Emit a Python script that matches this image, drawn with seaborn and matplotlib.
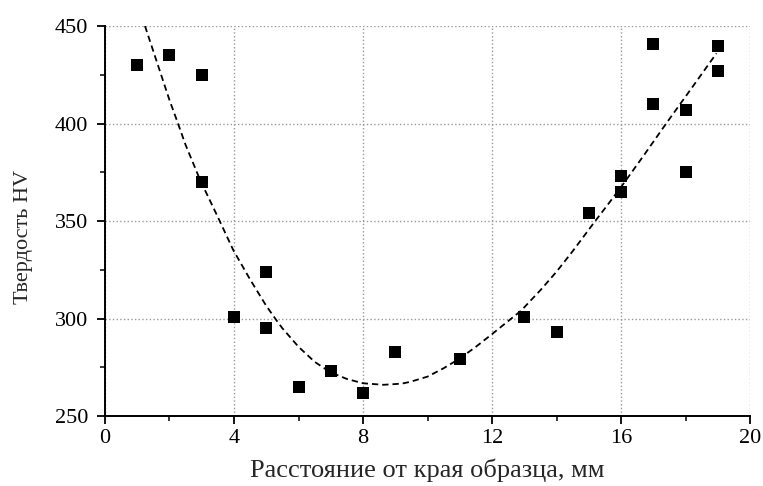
import numpy as np
import pandas as pd
import matplotlib
matplotlib.use("Agg")
import matplotlib.pyplot as plt
import seaborn as sns
from matplotlib.ticker import MultipleLocator

distance = [1, 2, 3, 3, 4, 5, 5, 6, 7, 8, 9, 11, 13, 14, 15, 16, 16, 17, 17, 18, 18, 19, 19]
hardness = [430, 435, 425, 370, 301, 324, 295, 265, 273, 262, 283, 279, 301, 293, 354,
            373, 365, 441, 410, 407, 375, 440, 427]

# dashed trend curve
trend_x = [1.24, 1.5, 2.0, 2.22, 2.5, 2.95, 3.5, 3.98, 4.5, 5.0, 5.32, 5.5, 6.0, 6.5,
           6.98, 7.5, 8.0, 8.63, 9.2, 9.46, 10.0, 10.5, 11.0, 11.5, 12.0, 12.45, 12.9,
           13.5, 14.0, 14.5, 15.2, 15.6, 16.07, 16.7, 17.4, 18.2, 18.96]
trend_y = [450, 437, 412, 402, 389, 371, 352, 335, 320, 306.5, 299, 295, 285.5, 277.8,
           272.5, 269, 266.8, 266, 266.6, 267.5, 270.2, 274.5, 279.5, 285.5, 292, 298,
           304, 314.5, 324, 334.5, 350, 358.6, 369, 383.5, 400, 418.4, 436]

x_ticks = [0, 4, 8, 12, 16, 20]
y_ticks = [250, 300, 350, 400, 450]

df = pd.DataFrame({"x": distance, "y": hardness})
trend = pd.DataFrame({"x": trend_x, "y": trend_y})

sns.set_style("ticks")
plt.rcParams["font.family"] = ["Liberation Serif", "DejaVu Serif"]

fig = plt.figure(figsize=(7.63, 4.86), dpi=100)
ax = fig.add_axes([0.1376, 0.144, 0.8454, 0.8025])

sns.lineplot(data=trend, x="x", y="y", ax=ax, sort=False, color="black", lw=1.3,
             ls=(0, (3.5, 2.2)), estimator=None)
sns.scatterplot(data=df, x="x", y="y", ax=ax, marker="s", s=80, color="black",
                edgecolor="black", linewidth=0, zorder=3)

ax.set_xlim(0, 20)
ax.set_ylim(250, 450)
ax.set_xticks(x_ticks)
ax.set_yticks(y_ticks)
ax.xaxis.set_minor_locator(MultipleLocator(2))
ax.yaxis.set_minor_locator(MultipleLocator(25))
ax.tick_params(which="major", direction="out", length=6, width=1.3, labelsize=16,
               colors="black")
ax.tick_params(axis="y", which="major", pad=6)
ax.tick_params(axis="x", which="major", pad=3)
ax.tick_params(which="minor", direction="out", length=3.5, width=1.3)
ax.grid(True, which="major", color="#999999", ls=":", lw=1)

sns.despine(ax=ax)
for s in ["left", "bottom"]:
    ax.spines[s].set_linewidth(1.4)
    ax.spines[s].set_color("black")

ax.set_xlabel("Расстояние от края образца, мм", fontsize=19, labelpad=8)
ax.set_ylabel("Твердость HV", fontsize=16)
ax.yaxis.set_label_coords(-0.112, 0.459)

fig.savefig("out.png", dpi=100)
